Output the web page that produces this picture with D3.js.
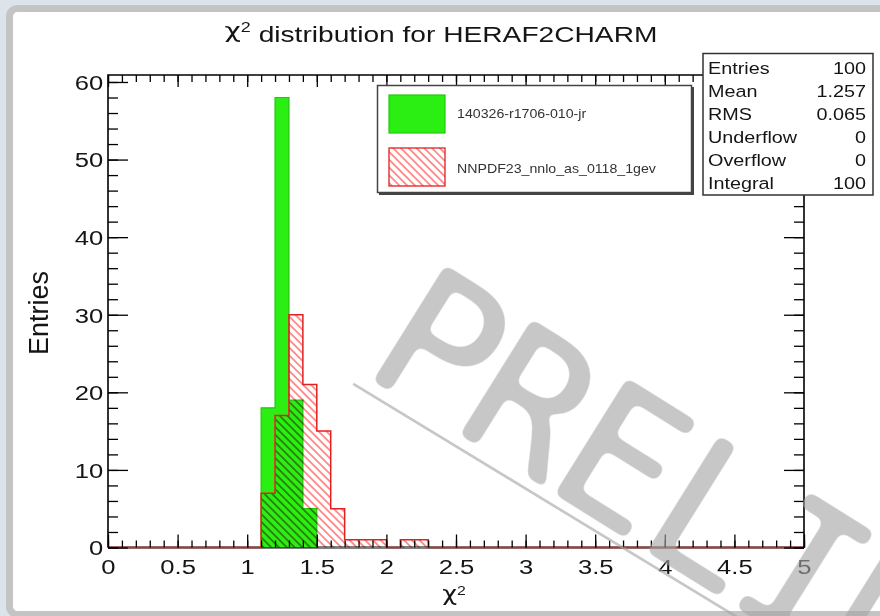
<!DOCTYPE html>
<html>
<head>
<meta charset="utf-8">
<script src="https://cdn.jsdelivr.net/npm/d3@7"></script>
<style>
  html, body { margin: 0; padding: 0; background: #dde3eb; }
  svg { display: block; }
  text { font-family: "Liberation Sans", Arial, Helvetica, sans-serif; }
</style>
</head>
<body>
<svg id="chart" width="880" height="616"></svg>
<script>
// ---- histogram binning: 50 bins of width 0.1 on [0, 5] ----
const binEdges = [0.0, 0.1, 0.2, 0.3, 0.4, 0.5, 0.6, 0.7, 0.8, 0.9,
                  1.0, 1.1, 1.2, 1.3, 1.4, 1.5, 1.6, 1.7, 1.8, 1.9,
                  2.0, 2.1, 2.2, 2.3, 2.4, 2.5, 2.6, 2.7, 2.8, 2.9,
                  3.0, 3.1, 3.2, 3.3, 3.4, 3.5, 3.6, 3.7, 3.8, 3.9,
                  4.0, 4.1, 4.2, 4.3, 4.4, 4.5, 4.6, 4.7, 4.8, 4.9, 5.0];

// entries per bin, fit "140326-r1706-010-jr"
const countsFit = [0, 0, 0, 0, 0, 0, 0, 0, 0, 0,
                   0, 18, 58, 19, 5, 0, 0, 0, 0, 0,
                   0, 0, 0, 0, 0, 0, 0, 0, 0, 0,
                   0, 0, 0, 0, 0, 0, 0, 0, 0, 0,
                   0, 0, 0, 0, 0, 0, 0, 0, 0, 0];

// entries per bin, reference "NNPDF23_nnlo_as_0118_1gev"
const countsRef = [0, 0, 0, 0, 0, 0, 0, 0, 0, 0,
                   0, 7, 17, 30, 21, 15, 5, 1, 1, 1,
                   0, 1, 1, 0, 0, 0, 0, 0, 0, 0,
                   0, 0, 0, 0, 0, 0, 0, 0, 0, 0,
                   0, 0, 0, 0, 0, 0, 0, 0, 0, 0];

const seriesNames = ["140326-r1706-010-jr", "NNPDF23_nnlo_as_0118_1gev"];

const xTickLabels = [0, 0.5, 1, 1.5, 2, 2.5, 3, 3.5, 4, 4.5, 5];
const yTickLabels = [0, 10, 20, 30, 40, 50, 60];

const statNames  = ["Entries", "Mean", "RMS", "Underflow", "Overflow", "Integral"];
const statValues = ["100", "1.257", "0.065", "0", "0", "100"];

const yMax = 60.9;   // 1.05 x tallest bin

// ---- drawing ----
const svg = d3.select("#chart");
const SX = 1.22;     // horizontal stretch of the canvas text
const INK = "#151515";

const x = d3.scaleLinear().domain([0, 5]).range([108, 804]);
const y = d3.scaleLinear().domain([0, yMax]).range([547.5, 75]);

// stretched text helper
function stext(parent, px, py, str, size, anchor, sx, color) {
  return parent.append("text")
    .attr("transform", `translate(${px},${py}) scale(${sx},1)`)
    .attr("text-anchor", anchor || "start")
    .style("font-size", size + "px")
    .style("fill", color || INK)
    .text(str);
}

const defs = svg.append("defs");
const hatch = defs.append("pattern")
  .attr("id", "hatch")
  .attr("patternUnits", "userSpaceOnUse")
  .attr("width", 5.5).attr("height", 5.5)
  .attr("patternTransform", "rotate(-45)");
hatch.append("line")
  .attr("x1", 2.75).attr("y1", -1).attr("x2", 2.75).attr("y2", 7)
  .attr("stroke", "#ff1a1a").attr("stroke-width", 1.5).attr("stroke-opacity", 0.62);

// soft-rounding filter for the stamp lettering: blur, then re-sharpen the alpha
const round = defs.append("filter").attr("id", "roundInk")
  .attr("x", "-5%").attr("y", "-5%").attr("width", "110%").attr("height", "110%");
round.append("feGaussianBlur").attr("in", "SourceGraphic").attr("stdDeviation", 4).attr("result", "b");
const ct = round.append("feComponentTransfer").attr("in", "b");
ct.append("feFuncA").attr("type", "linear").attr("slope", 8).attr("intercept", -3.6);

// canvas panel
svg.append("rect")
  .attr("x", 9.5).attr("y", 8.5).attr("width", 900).attr("height", 606)
  .attr("rx", 8).attr("ry", 8)
  .attr("fill", "#ffffff").attr("stroke", "#c4c4c4").attr("stroke-width", 7);

// title
const title = svg.append("text")
  .attr("transform", `translate(441,38) scale(1.28,1)`)
  .attr("text-anchor", "middle")
  .style("font-size", "22px").style("fill", INK);
title.append("tspan").style("font-family", "'DejaVu Sans', sans-serif").text("\u03c7");
title.append("tspan").attr("dy", "-0.45em").style("font-size", "14px").text("2");
title.append("tspan").attr("dy", "0.45em").text(" distribution for HERAF2CHARM");

// frame bottom line (histogram baselines are drawn over it)
svg.append("line")
  .attr("x1", x(0)).attr("x2", x(5)).attr("y1", y(0)).attr("y2", y(0))
  .attr("stroke", "#000").attr("stroke-width", 2);

// histograms
function stepPoints(counts) {
  const pts = counts.map((c, i) => [binEdges[i], c]);
  pts.push([binEdges[binEdges.length - 1], counts[counts.length - 1]]);
  return pts;
}
const area = d3.area().curve(d3.curveStepAfter)
  .x(d => x(d[0])).y0(y(0)).y1(d => y(d[1]));
const outline = d3.line().curve(d3.curveStepAfter)
  .x(d => x(d[0])).y(d => y(d[1]));

svg.append("path").datum(stepPoints(countsFit))
  .attr("d", area).attr("fill", "#2bef12");
svg.append("path").datum(stepPoints(countsFit))
  .attr("d", outline).attr("fill", "none")
  .attr("stroke", "#22c80e").attr("stroke-width", 1.2);

svg.append("path").datum(stepPoints(countsRef))
  .attr("d", area).attr("fill", "url(#hatch)")
  .style("mix-blend-mode", "multiply");
svg.append("path").datum(stepPoints(countsRef))
  .attr("d", outline).attr("fill", "none")
  .attr("stroke", "#e32020").attr("stroke-width", 1.5);

// frame left / top / right
svg.append("path")
  .attr("d", `M${x(0)},${y(0)}V${y(yMax)}H${x(5)}V${y(0)}`)
  .attr("fill", "none").attr("stroke", "#000").attr("stroke-width", 1.6);

// axes: minor + major ticks on all four sides, pointing inward
function styleAxis(g) {
  g.select(".domain").remove();
  g.selectAll(".tick line").attr("stroke", "#000").attr("stroke-width", 1.3);
}
const xMinor = x.ticks(50), yMinor = y.ticks(30);

svg.append("g").attr("transform", `translate(0,${y(0)})`)
  .call(d3.axisBottom(x).tickValues(xMinor).tickSize(-7).tickFormat(""))
  .call(styleAxis);
const gx = svg.append("g").attr("transform", `translate(0,${y(0)})`)
  .call(d3.axisBottom(x).tickValues(xTickLabels).tickSize(-13).tickFormat(d3.format("~g")))
  .call(styleAxis);
gx.selectAll(".tick text")
  .attr("y", 26.5).attr("dy", null)
  .attr("transform", `scale(${SX},1)`)
  .style("font-size", "21px").style("fill", INK)
  .style("font-family", "'Liberation Sans', Arial, sans-serif");

svg.append("g").attr("transform", `translate(0,${y(yMax)})`)
  .call(d3.axisTop(x).tickValues(xMinor).tickSize(-7).tickFormat(""))
  .call(styleAxis);
svg.append("g").attr("transform", `translate(0,${y(yMax)})`)
  .call(d3.axisTop(x).tickValues(xTickLabels).tickSize(-12).tickFormat(""))
  .call(styleAxis);

svg.append("g").attr("transform", `translate(${x(0)},0)`)
  .call(d3.axisLeft(y).tickValues(yMinor).tickSize(-10).tickFormat(""))
  .call(styleAxis);
const gy = svg.append("g").attr("transform", `translate(${x(0)},0)`)
  .call(d3.axisLeft(y).tickValues(yTickLabels).tickSize(-20).tickFormat(d3.format("d")))
  .call(styleAxis);
gy.selectAll(".tick text")
  .attr("x", -4).attr("dy", "0.35em")
  .attr("transform", `scale(${SX},1)`)
  .style("font-size", "21px").style("fill", INK)
  .style("font-family", "'Liberation Sans', Arial, sans-serif");

svg.append("g").attr("transform", `translate(${x(5)},0)`)
  .call(d3.axisRight(y).tickValues(yMinor).tickSize(-10).tickFormat(""))
  .call(styleAxis);
svg.append("g").attr("transform", `translate(${x(5)},0)`)
  .call(d3.axisRight(y).tickValues(yTickLabels).tickSize(-20).tickFormat(""))
  .call(styleAxis);

// axis titles
const xt = svg.append("text")
  .attr("transform", `translate(454,601) scale(${SX},1)`)
  .attr("text-anchor", "middle").style("font-size", "21px").style("fill", INK);
xt.append("tspan").style("font-family", "'DejaVu Sans', sans-serif").text("\u03c7");
xt.append("tspan").attr("dy", "-0.45em").style("font-size", "13px").text("2");

svg.append("text")
  .attr("transform", `translate(48,313) rotate(-90)`)
  .attr("text-anchor", "middle").style("font-size", "27px").style("fill", INK)
  .text("Entries");

// legend
const lg = svg.append("g");
lg.append("rect").attr("x", 379).attr("y", 87).attr("width", 315).attr("height", 108)
  .attr("fill", "#444");
lg.append("rect").attr("x", 377.5).attr("y", 85.5).attr("width", 314).attr("height", 107)
  .attr("fill", "#fff").attr("stroke", "#444").attr("stroke-width", 1.5);
lg.append("rect").attr("x", 389).attr("y", 95).attr("width", 56).attr("height", 38)
  .attr("fill", "#2bef12").attr("stroke", "#22c80e").attr("stroke-width", 1.2);
lg.append("rect").attr("x", 389).attr("y", 148).attr("width", 56).attr("height", 38)
  .attr("fill", "url(#hatch)").attr("stroke", "#e32020").attr("stroke-width", 1.3);
stext(lg, 457, 118, seriesNames[0], 13.5, "start", 1.05, "#333");
stext(lg, 457, 173, seriesNames[1], 13.5, "start", 1.05, "#333");

// statistics box
const sb = svg.append("g");
sb.append("rect").attr("x", 703).attr("y", 53.5).attr("width", 170).attr("height", 141.5)
  .attr("fill", "#fff").attr("stroke", "#333").attr("stroke-width", 1.5);
statNames.forEach((n, i) => {
  const by = 74 + i * 23;
  stext(sb, 708, by, n, 16.5, "start", 1.2);
  stext(sb, 866, by, statValues[i], 16.5, "end", 1.2);
});

// watermark
const wm = svg.append("g")
  .attr("transform", "translate(359,371) rotate(32)")
  .attr("opacity", 0.62);
wm.append("text")
  .attr("x", 0).attr("y", 0)
  .attr("filter", "url(#roundInk)")
  .style("font-family", "'DejaVu Sans Mono', monospace")
  .style("font-size", "186px")
  .style("letter-spacing", "-5px")
  .style("fill", "#a6a6a6").style("stroke", "#a6a6a6")
  .style("stroke-width", "2px").style("stroke-linejoin", "round")
  .text("PRELIMINARY");
wm.append("line")
  .attr("x1", 2).attr("y1", 14).attr("x2", 800).attr("y2", 4)
  .attr("stroke", "#a6a6a6").attr("stroke-width", 2.7);
</script>
</body>
</html>
